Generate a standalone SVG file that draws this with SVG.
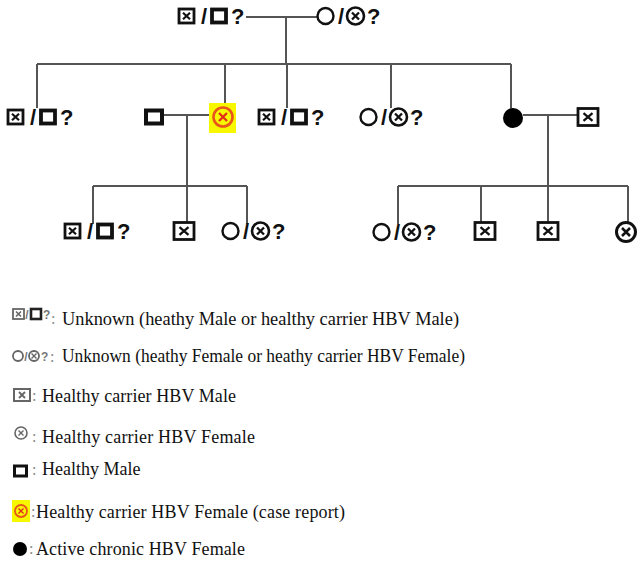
<svg xmlns="http://www.w3.org/2000/svg" width="640" height="561" viewBox="0 0 640 561">
<style>
.ln{fill:none;stroke:#555;stroke-width:2}
.sym{fill:#fff;stroke:#111}
.q{font-family:"Liberation Sans",Arial,sans-serif;font-weight:bold;font-size:22px;fill:#111}
.lg{font-family:"Liberation Serif","Times New Roman",serif;font-size:18px;fill:#111}
.lgi{fill:#fff;stroke:#666}
.lq{font-family:"Liberation Sans",Arial,sans-serif;font-weight:bold;font-size:12px;fill:#777}
.col{font-family:"Liberation Serif",serif;font-size:16px;fill:#888}
</style>
<defs>
<g id="bx"><rect x="-7.5" y="-7" width="15" height="14" class="sym" stroke-width="2.8"/><path d="M-3.5,-3.2L3.5,3.2M3.5,-3.2L-3.5,3.2" stroke="#111" stroke-width="2.2"/></g>
<g id="bxL"><rect x="-10" y="-8.5" width="20" height="17" class="sym" stroke-width="2.8"/><path d="M-4.5,-3.8L4.5,3.8M4.5,-3.8L-4.5,3.8" stroke="#111" stroke-width="2.3"/></g>
<g id="bo"><rect x="-7" y="-6.5" width="14" height="13" class="sym" stroke-width="3.8"/></g>
<g id="boL"><rect x="-8" y="-6.5" width="16" height="13" class="sym" stroke-width="4"/></g>
<g id="co"><circle r="8" class="sym" stroke-width="2.4"/></g>
<g id="cx"><circle r="8.5" class="sym" stroke-width="2.6"/><path d="M-3.5,-3.5L3.5,3.5M3.5,-3.5L-3.5,3.5" stroke="#111" stroke-width="2.3"/></g>
<g id="mu"><use href="#bx" x="8.5"/><text class="q" x="26" y="8" text-anchor="middle">/</text><use href="#bo" x="41"/><text class="q" x="53" y="8">?</text></g>
<g id="fu"><use href="#co" x="8.5"/><text class="q" x="24" y="8" text-anchor="middle">/</text><use href="#cx" x="38.5"/><text class="q" x="50" y="8">?</text></g>
</defs>

<g id="connectors">
<path class="ln" d="M246,17H317M286,17V64"/>
<path class="ln" d="M37,64H511M37,64V108M225,64V106M287,64V108M391,64V108M511,64V108"/>
<path class="ln" d="M163,115H213M187,115V186M93,186H247M93,186V224M187,186V222M247,186V224"/>
<path class="ln" d="M523,115H577M548,115V186M398,186H628M398,186V224M481,186V222M548,186V222M628,186V222"/>
</g>

<g id="gp-male"><use href="#mu" x="178" y="16"/></g>
<g id="gp-female"><use href="#fu" x="317" y="16"/></g>

<g id="c1"><use href="#mu" x="7" y="117"/></g>
<g id="c1-spouse"><use href="#boL" x="154" y="117"/></g>
<g id="c2-case"><rect x="209" y="103" width="27" height="30" fill="#f7f700"/><circle cx="223" cy="117" r="9.5" fill="none" stroke="#e8561c" stroke-width="2.6"/><path d="M219,113L227,121M227,113L219,121" stroke="#e02a1a" stroke-width="2.2"/></g>
<g id="c3"><use href="#mu" x="258" y="117"/></g>
<g id="c4"><use href="#fu" x="360" y="117"/></g>
<g id="c5"><circle cx="513" cy="118" r="10" fill="#000"/></g>
<g id="c5-spouse"><use href="#bxL" x="588" y="117"/></g>

<g id="g1"><use href="#mu" x="64" y="231"/></g>
<g id="g2"><use href="#bxL" x="184" y="231"/></g>
<g id="g3"><use href="#fu" x="222" y="231"/></g>
<g id="g4"><use href="#fu" x="373" y="232"/></g>
<g id="g5"><use href="#bxL" x="485" y="231"/></g>
<g id="g6"><use href="#bxL" x="548" y="231"/></g>
<g id="g7"><circle cx="626" cy="232" r="9.5" class="sym" stroke-width="3"/><path d="M622,228L630,236M630,228L622,236" stroke="#111" stroke-width="2.5"/></g>

<g id="legend">
<g id="lg1">
<rect x="13" y="309" width="11" height="10" class="lgi" stroke-width="1.8"/><path d="M16,311.5L21,316.5M21,311.5L16,316.5" stroke="#666" stroke-width="1.6"/>
<text class="lq" x="27" y="319" text-anchor="middle">/</text>
<rect x="31" y="309" width="10" height="10" fill="#fff" stroke="#222" stroke-width="2.6"/>
<text class="lq" x="43" y="319">?</text><text class="col" x="51" y="324">:</text>
<text class="lg" x="62" y="325" textLength="397" lengthAdjust="spacingAndGlyphs">Unknown (heathy Male or healthy carrier HBV Male)</text>
</g>
<g id="lg2">
<circle cx="18" cy="356" r="5" class="lgi" stroke-width="1.8"/>
<text class="lq" x="26" y="361" text-anchor="middle">/</text>
<circle cx="34" cy="356" r="5" class="lgi" stroke-width="1.8"/><path d="M31.5,353.5L36.5,358.5M36.5,353.5L31.5,358.5" stroke="#666" stroke-width="1.4"/>
<text class="lq" x="41" y="361">?</text><text class="col" x="50" y="362">:</text>
<text class="lg" x="62" y="362" textLength="403" lengthAdjust="spacingAndGlyphs">Unknown (heathy Female or heathy carrier HBV Female)</text>
</g>
<g id="lg3">
<rect x="14" y="389" width="16" height="12" class="lgi" stroke-width="2"/><path d="M19,392L25,398M25,392L19,398" stroke="#666" stroke-width="1.8"/>
<text class="col" x="32" y="401">:</text>
<text class="lg" x="42" y="402" textLength="194">Healthy carrier HBV Male</text>
</g>
<g id="lg4">
<circle cx="21" cy="433" r="6" class="lgi" stroke-width="1.6"/><path d="M18.5,430.5L23.5,435.5M23.5,430.5L18.5,435.5" stroke="#666" stroke-width="1.4"/>
<text class="col" x="32" y="442">:</text>
<text class="lg" x="42" y="443" textLength="213">Healthy carrier HBV Female</text>
</g>
<g id="lg5">
<rect x="14.5" y="466" width="12" height="10" fill="#fff" stroke="#111" stroke-width="3"/>
<text class="col" x="32" y="475">:</text>
<text class="lg" x="42" y="475">Healthy Male</text>
</g>
<g id="lg6">
<rect x="12" y="500" width="18" height="22" fill="#f7f700"/>
<circle cx="21" cy="511" r="6" fill="none" stroke="#e8561c" stroke-width="1.8"/><path d="M18.5,508.5L23.5,513.5M23.5,508.5L18.5,513.5" stroke="#e02a1a" stroke-width="1.4"/>
<text class="col" x="31" y="517">:</text>
<text class="lg" x="36" y="518" textLength="309">Healthy carrier HBV Female (case report)</text>
</g>
<g id="lg7">
<circle cx="20" cy="549" r="7" fill="#000"/>
<text class="col" x="29" y="554">:</text>
<text class="lg" x="36" y="555" textLength="209">Active chronic HBV Female</text>
</g>
</g>
</svg>
